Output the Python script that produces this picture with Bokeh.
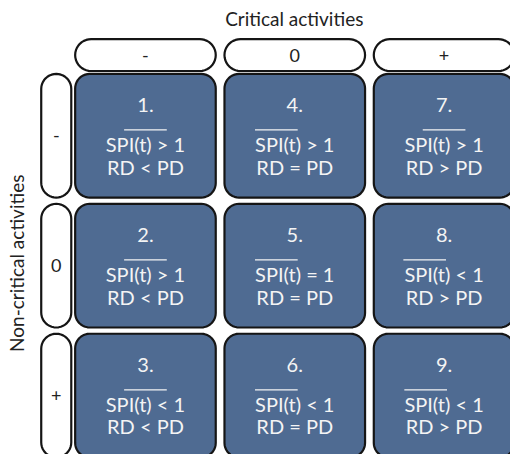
import math
from bokeh.plotting import figure
from bokeh.models import Range1d
from bokeh.core.properties import value
from bokeh.embed import file_html
from bokeh.resources import INLINE

# ---- data ----
col_labels = ["-", "0", "+"]
row_labels = ["-", "0", "+"]
col_title = "Critical activities"
row_title = "Non-critical activities"
# cell content, column-major (col 0 rows 0..2, col 1 ..., col 2 ...)
cell_numbers = ["1.", "2.", "3.", "4.", "5.", "6.", "7.", "8.", "9."]
spi_ops = [">", ">", "<", ">", "=", "<", ">", "<", "<"]
rd_ops = ["<", "<", "<", "=", "=", "=", ">", ">", ">"]

# ---- layout (reference pixel space) ----
FONT = "Lato"
col_x0 = [77, 231, 385]
cell_w = 145
row_y0 = [76, 210.5, 345]
cell_h = 128
head_y0, head_h = 40, 33
side_x0, side_w = 42, 31
fill = "#4f6b92"
edge = "#151515"
overline_shift = [0, 0, 0, -19, -19, -19, 0, -20, -19]


def rounded(x0, y0, w, h, r, n=10):
    r = min(r, w / 2, h / 2)
    xs, ys = [], []
    corners = [(x0 + w - r, y0 + r, -90, 0), (x0 + w - r, y0 + h - r, 0, 90),
               (x0 + r, y0 + h - r, 90, 180), (x0 + r, y0 + r, 180, 270)]
    for cx, cy, a0, a1 in corners:
        for i in range(n + 1):
            a = math.radians(a0 + (a1 - a0) * i / n)
            xs.append(cx + r * math.cos(a))
            ys.append(cy + r * math.sin(a))
    return xs, ys


p = figure(width=510, height=454, output_backend="svg", toolbar_location=None,
           x_range=Range1d(0, 526), y_range=Range1d(470, 0), min_border=0)
p.axis.visible = False
p.grid.visible = False
p.outline_line_color = None
p.background_fill_color = "white"
p.border_fill_color = "white"

# header pills
hx, hy = [], []
for c in range(3):
    xs, ys = rounded(col_x0[c], head_y0, cell_w, head_h, head_h / 2)
    hx.append(xs); hy.append(ys)
p.patches(hx, hy, fill_color="white", line_color=edge, line_width=2.2)
p.text(x=[col_x0[c] + cell_w / 2 for c in range(3)], y=[head_y0 + head_h / 2] * 3,
       text=col_labels, text_font=value(FONT), text_font_size="18px",
       text_align="center", text_baseline="middle", text_color="#222222")

# side pills
sx, sy = [], []
for r in range(3):
    xs, ys = rounded(side_x0, row_y0[r], side_w, cell_h, side_w / 2)
    sx.append(xs); sy.append(ys)
p.patches(sx, sy, fill_color="white", line_color=edge, line_width=2.2)
p.text(x=[side_x0 + side_w / 2] * 3, y=[row_y0[r] + cell_h / 2 for r in range(3)],
       text=row_labels, text_font=value(FONT), text_font_size="18px",
       text_align="center", text_baseline="middle", text_color="#222222")

# cells
cx_l, cy_l, num_x, num_y, spi_y, rd_y, spi_t, rd_t = [], [], [], [], [], [], [], []
ol_x0, ol_x1, ol_y = [], [], []
for c in range(3):
    for r in range(3):
        k = c * 3 + r
        xs, ys = rounded(col_x0[c], row_y0[r], cell_w, cell_h, 15)
        cx_l.append(xs); cy_l.append(ys)
        xc = col_x0[c] + cell_w / 2
        num_x.append(xc)
        num_y.append(row_y0[r] + 32)
        spi_y.append(row_y0[r] + 73)
        rd_y.append(row_y0[r] + 96)
        spi_t.append("SPI(t) %s 1" % spi_ops[k])
        rd_t.append("RD %s PD" % rd_ops[k])
        oc = xc + overline_shift[k]
        ol_x0.append(oc - 22); ol_x1.append(oc + 22)
        ol_y.append(row_y0[r] + 58)

p.patches(cx_l, cy_l, fill_color=fill, line_color=edge, line_width=2.2)
for texts, ys in ((cell_numbers, num_y), (spi_t, spi_y), (rd_t, rd_y)):
    p.text(x=num_x, y=ys, text=texts, text_font=value(FONT), text_font_size="20px",
           text_align="center", text_baseline="middle", text_color="#f4f4f4")
p.segment(x0=ol_x0, y0=ol_y, x1=ol_x1, y1=ol_y, line_color="#f4f4f4", line_width=1.2)

# titles
p.text(x=[303], y=[19], text=[col_title], text_font=value(FONT), text_font_size="19px",
       text_align="center", text_baseline="middle", text_color="#222222")
p.text(x=[17], y=[272], text=[row_title], angle=math.pi / 2, text_font=value(FONT),
       text_font_size="19px", text_align="center", text_baseline="middle",
       text_color="#222222")

open("out.html", "w").write(file_html(p, INLINE))
